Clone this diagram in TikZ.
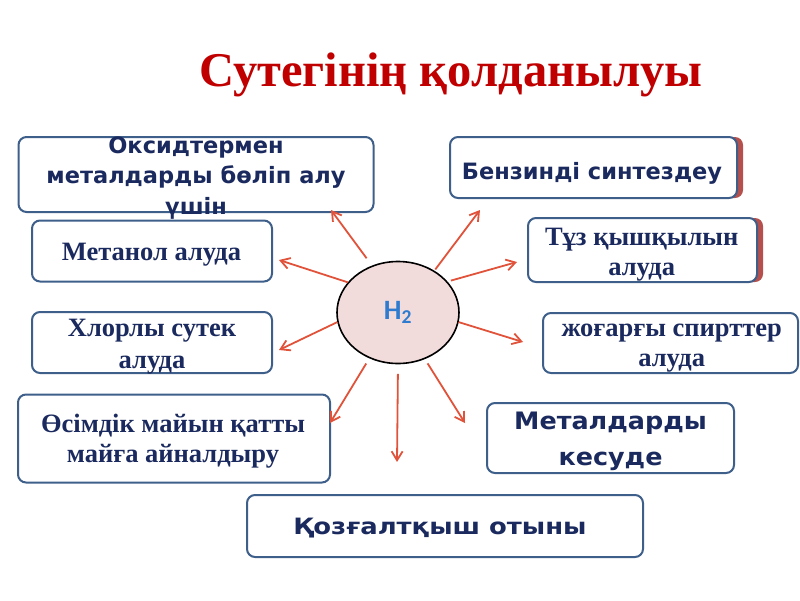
\documentclass[tikz,border=0pt]{standalone}
\usepackage{fontspec}
\setmainfont{Liberation Serif}
\setsansfont{DejaVu Sans}
\newfontfamily\hfont{Carlito}
\usetikzlibrary{shapes.geometric,arrows.meta}
\definecolor{navy}{HTML}{1B2A5E}
\definecolor{bord}{HTML}{3E5F8A}
\definecolor{arr}{HTML}{E0533A}
\definecolor{ttl}{HTML}{C00000}
\definecolor{pinkf}{HTML}{F2DCDB}
\definecolor{hblue}{HTML}{2E7BCF}
\definecolor{shad}{HTML}{B5504C}
\newcommand\sxt[2]{\scalebox{#1}[1]{\begin{tabular}[t]{@{}c@{}}#2\end{tabular}}}
\newcommand\lns[1]{\begin{tabular}[t]{@{}c@{}}#1\end{tabular}}
\tikzset{
  box/.style={draw=bord, line width=2pt, rounded corners=8pt, fill=white, inner sep=0pt},
  sbox/.style={fill=shad, rounded corners=8pt, inner sep=0pt},
  stx/.style={text=navy, anchor=base, inner sep=0pt, font=\sffamily\bfseries\fontsize{22.5}{30.5}\selectfont},
  rtx/.style={text=navy, anchor=base, inner sep=0pt, font=\rmfamily\bfseries\fontsize{26.5}{#1}\selectfont},
  rtx/.default=30,
  ray/.style={draw=arr, line width=1.8pt, -{Straight Barb[length=9pt,width=11pt]}},
}
\begin{document}
\begin{tikzpicture}[x=1pt,y=-1pt]
\useasboundingbox (0,0) rectangle (800,600);
\node[text=ttl, anchor=base, font=\rmfamily\bfseries\fontsize{48.5}{52}\selectfont, inner sep=0pt] (title) at (451,86) {Сутегінің қолданылуы};
% boxes
\node[box, minimum width=355pt, minimum height=75pt] (b1) at (196,174.5) {};
\node[box, minimum width=240pt, minimum height=61pt] (b2) at (152,251) {};
\node[box, minimum width=240pt, minimum height=61pt] (b3) at (152,342.5) {};
\node[box, minimum width=312pt, minimum height=88pt] (b4) at (174,438.5) {};
\node[box, minimum width=396pt, minimum height=62pt] (b5) at (445,526) {};
\node[box, minimum width=247pt, minimum height=70pt] (b6) at (610.5,438) {};
\node[box, minimum width=255pt, minimum height=60pt] (b7) at (670.5,343) {};
\node[sbox, minimum width=229pt, minimum height=64pt] (s8) at (648.5,250) {};
\node[box, minimum width=229pt, minimum height=64pt] (b8) at (642.5,250) {};
\node[sbox, minimum width=287pt, minimum height=61pt] (s9) at (599.5,167.5) {};
\node[box, minimum width=287pt, minimum height=61pt] (b9) at (593.5,167.5) {};
% texts
\node[stx] (t1) at (196,153) {\sxt{1}{Оксидтермен\\металдарды бөліп алу\\үшін}};
\node[rtx] (t2) at (151.5,260.7) {Метанол алуда};
\node[rtx=31.5] (t3) at (152,336.7) {\lns{Хлорлы сутек\\алуда}};
\node[rtx=29.5] (t4) at (173,432.7) {\lns{Өсімдік майын қатты\\майға айналдыру}};
\node[stx] (t5) at (440,534.3) {\sxt{1.15}{Қозғалтқыш отыны}};
\node[stx, font=\sffamily\bfseries\fontsize{24}{36}\selectfont] (t6) at (610.5,429.3) {\sxt{1.06}{Металдарды\\кесуде}};
\node[rtx=30] (t7) at (671.7,336.7) {\lns{жоғарғы спирттер\\алуда}};
\node[rtx=30] (t8) at (641.7,245.3) {\lns{Тұз қышқылын\\алуда}};
\node[stx] (t9) at (592,179.3) {\sxt{1}{Бензинді синтездеу}};
% centre
\node[ellipse, draw=black, line width=1.6pt, fill=pinkf, minimum width=122pt, minimum height=102pt, text=hblue, font=\hfont\bfseries\fontsize{28}{30}\selectfont] (h2) at (398,312.5) {H\textsubscript{2}};
% arrow tips
\coordinate (e1) at (331,210);
\coordinate (e2) at (279,260);
\coordinate (e3) at (279,350);
\coordinate (e4) at (330,423);
\coordinate (e5) at (397,462);
\coordinate (e6) at (465,423);
\coordinate (e7) at (523,342);
\coordinate (e8) at (517,262);
\coordinate (e9) at (480,210);
\draw[ray, shorten <=9pt] (h2.119) -- (e1);
\draw[ray] (h2.149.5) -- (e2);
\draw[ray] (h2.189) -- (e3);
\draw[ray, shorten <=6pt] (h2.238.5) -- (e4);
\draw[ray, shorten <=9.5pt] (h2.270) -- (e5);
\draw[ray, shorten <=5pt] (h2.300) -- (e6);
\draw[ray] (h2.351) -- (e7);
\draw[ray, shorten <=3.5pt] (h2.32) -- (e8);
\draw[ray, shorten <=1.5pt] (h2.49) -- (e9);
\end{tikzpicture}
\end{document}
